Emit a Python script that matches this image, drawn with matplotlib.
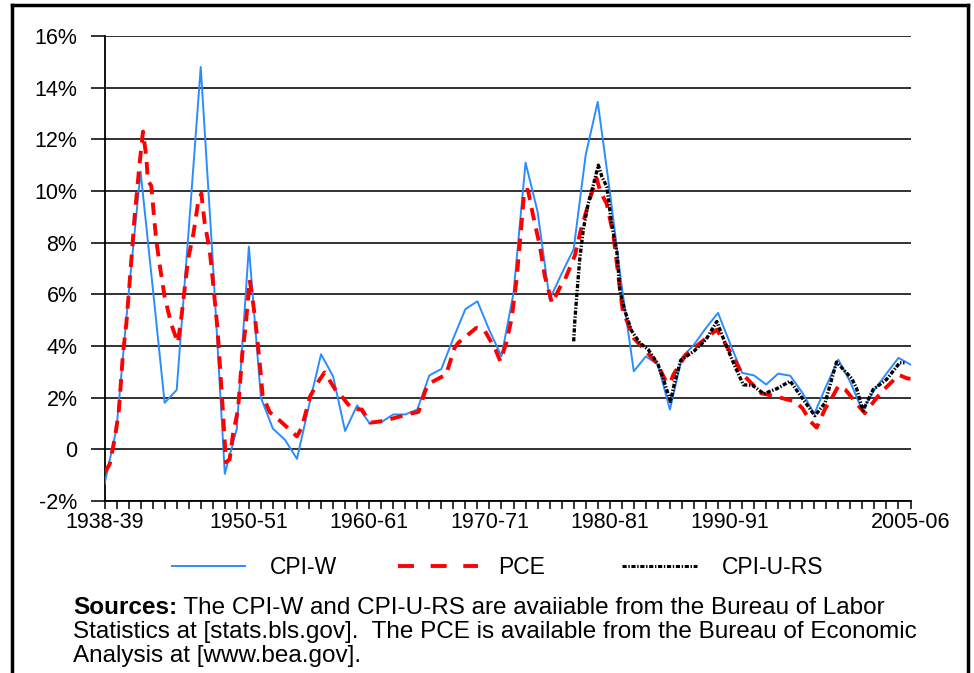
import numpy as np
import matplotlib
matplotlib.use('Agg')
from matplotlib import pyplot as plt
from matplotlib.lines import Line2D

plt.rcParams['font.family'] = ['Liberation Sans', 'DejaVu Sans']
plt.rcParams['lines.scale_dashes'] = False

# CPI-W, annual
cpiw_years = list(range(1938, 2006))
cpiw = [-1.35, 0.8, 6.0, 10.75, 6.3, 1.8, 2.3, 8.5, 14.8, 7.3,
        -0.95, 0.8, 7.85, 2.0, 0.8, 0.37, -0.37, 1.7, 3.68, 2.83,
        0.71, 1.7, 1.03, 1.05, 1.35, 1.35, 1.54, 2.86, 3.11, 4.3,
        5.43, 5.73, 4.6, 3.6, 6.05, 11.1, 9.2, 5.8, 6.8, 7.75,
        11.4, 13.45, 10.0, 6.3, 3.02, 3.6, 3.28, 1.54, 3.56, 4.05,
        4.7, 5.28, 4.1, 2.96, 2.86, 2.51, 2.93, 2.85, 2.2, 1.37,
        2.46, 3.47, 2.6, 1.5, 2.3, 2.93, 3.54, 3.28]

# PCE
pce_years = [1938.0, 1938.43, 1938.84, 1939.18, 1939.54, 1939.82, 1940.15, 1940.5,
             1940.92, 1941.2, 1941.48, 1941.6, 1941.89, 1942.1, 1942.3, 1942.6,
             1943.0, 1943.56, 1944.1, 1944.4, 1944.94, 1945.4, 1945.77, 1946.05,
             1946.33, 1946.74, 1947.0, 1947.4, 1947.85, 1948.1, 1948.4, 1948.68,
             1949.1, 1949.46, 1949.73, 1950.07, 1950.4, 1950.65, 1950.9, 1951.15,
             1951.75, 1952.6, 1954.0, 1954.4, 1954.8, 1955.1, 1955.8, 1956.3,
             1957.2, 1957.7, 1958.55, 1959.4, 1960.07, 1961.2, 1962.7, 1963.5,
             1964.1, 1964.65, 1965.0, 1966.4, 1967.1, 1967.4, 1968.9, 1969.6,
             1970.5, 1970.9, 1971.4, 1971.85, 1972.25, 1972.6, 1972.9, 1973.2,
             1973.65, 1974.2, 1974.6, 1975.2, 1975.9, 1976.3, 1977.1, 1977.6,
             1978.35, 1978.9, 1979.2, 1979.75, 1980.3, 1980.85, 1981.1, 1981.4,
             1982.0, 1982.9, 1983.9, 1984.6, 1985.0, 1985.3, 1986.3, 1988.0,
             1988.9, 1989.9, 1991.0, 1992.6, 1993.6, 1995.4, 1996.0, 1996.7,
             1997.2, 1997.9, 1998.3, 1999.0, 1999.6, 2000.7, 2001.2, 2002.25,
             2002.8, 2004.05, 2004.7, 2005.0]
pce = [-0.9, -0.58, 0.39, 1.42, 3.73, 4.89, 6.82, 9.0,
       11.07, 12.3, 11.3, 10.4, 10.2, 9.1, 8.1, 7.1,
       5.9, 4.83, 4.12, 5.15, 7.34, 8.37, 9.52, 9.9,
       8.75, 7.72, 6.56, 4.63, 1.42, -0.5, -0.39, 0.58,
       1.54, 3.73, 4.76, 6.56, 5.5, 4.5, 3.35, 2.06,
       1.43, 1.1, 0.5, 0.85, 1.54, 2.06, 2.64, 2.98,
       2.3, 2.06, 1.57, 1.54, 1.03, 1.1, 1.29, 1.39,
       1.45, 2.25, 2.55, 2.9, 3.93, 4.12, 4.7, 4.6,
       3.86, 3.41, 4.12, 5.08, 6.56, 8.37, 10.04, 10.04,
       9.0, 7.85, 6.7, 5.66, 6.3, 6.6, 7.5, 8.5,
       9.7, 10.5, 10.0, 9.5, 8.3, 6.2, 5.3, 5.0,
       4.3, 3.85, 3.35, 2.7, 2.55, 2.9, 3.65, 4.3,
       4.63, 3.86, 2.93, 2.17, 2.07, 1.85, 1.6, 1.07,
       0.84, 1.57, 1.85, 2.45, 2.3, 1.67, 1.4, 2.03,
       2.32, 2.88, 2.75, 2.73]

# CPI-U-RS, starts late 1970s
cpiurs_years = [1977.0, 1977.1, 1977.25, 1977.5, 1977.8, 1978.2, 1978.6, 1979.05,
                1979.35, 1979.75, 1980.15, 1980.6, 1980.85, 1981.3, 1981.8, 1982.5,
                1983.2, 1984.0, 1984.5, 1985.05, 1985.35, 1985.9, 1987.0, 1988.0,
                1988.9, 1989.6, 1990.4, 1991.1, 1991.9, 1992.8, 1993.9, 1995.0,
                1996.05, 1997.05, 1997.9, 1998.85, 2000.1, 2000.5, 2001.05, 2001.9,
                2003.0, 2004.1, 2004.5]
cpiurs = [4.18, 5.0, 5.9, 7.34, 8.5, 9.5, 10.17, 11.0,
          10.55, 10.17, 8.75, 7.6, 6.1, 5.3, 4.6, 4.12,
          3.86, 3.3, 2.65, 1.85, 2.5, 3.45, 3.8, 4.25,
          4.95, 4.1, 3.22, 2.5, 2.47, 2.15, 2.35, 2.64,
          1.95, 1.3, 1.8, 3.38, 2.75, 2.38, 1.5, 2.32,
          2.7, 3.35, 3.35]

xtick_years = [1938, 1950, 1960, 1970, 1980, 1990, 2005]
xtick_labels = ['1938-39', '1950-51', '1960-61', '1970-71', '1980-81', '1990-91', '2005-06']
ytick_vals = list(range(-2, 17, 2))
ytick_labels = ['-2%', '0'] + ['{}%'.format(v) for v in ytick_vals[2:]]

W, H = 974, 673
fs = 15.5      # tick labels
fs_leg = 16.5  # legend
fs_src = 17.5  # source note
blue, red = '#2b8cff', '#ff0000'

fig = plt.figure(figsize=(W / 100, H / 100), dpi=100)
ax = fig.add_axes([104.5 / W, 1 - 501 / H, (910.5 - 104.5) / W, (501 - 36) / H])

ax.plot(cpiw_years, cpiw, color=blue, lw=1.4, zorder=3)
ax.plot(pce_years, pce, color=red, lw=2.8, dashes=(9, 6), zorder=4)
ax.plot(cpiurs_years, cpiurs, color='black', lw=2.4, dashes=(3, 1.2, 1, 1.2), zorder=5)

ax.set_xlim(1938, 2005)
ax.set_ylim(-2, 16)
ax.set_yticks(ytick_vals)
ax.set_yticklabels(ytick_labels, fontsize=fs)
ax.set_xticks(xtick_years)
ax.set_xticklabels(xtick_labels, fontsize=fs)
ax.set_xticks(cpiw_years, minor=True)

ax.yaxis.grid(True, color='#222222', lw=1.3)
ax.set_axisbelow(True)
for s in ['top', 'right']:
    ax.spines[s].set_visible(False)
ax.spines['left'].set_linewidth(1.3)
ax.spines['bottom'].set_linewidth(1.3)
ax.tick_params(axis='y', length=10, width=1.3, color='#222222', pad=9.5)
ax.tick_params(axis='x', which='both', length=5.8, width=1.1, pad=2)

# legend drawn by hand under the axis
ly = 1 - 566 / H
fig.add_artist(Line2D([172 / W, 245 / W], [ly, ly], color=blue, lw=1.4))
fig.add_artist(Line2D([398 / W, 478 / W], [ly, ly], color=red, lw=2.8, dashes=(11.5, 12)))
fig.add_artist(Line2D([622 / W, 697 / W], [ly, ly], color='black', lw=2.2, dashes=(3, 1.2, 1, 1.2)))
fig.text(270 / W, 1 - 574 / H, 'CPI-W', fontsize=fs_leg, va='baseline')
fig.text(498 / W, 1 - 574 / H, 'PCE', fontsize=fs_leg, va='baseline')
fig.text(722 / W, 1 - 574 / H, 'CPI-U-RS', fontsize=fs_leg, va='baseline')

# source note
t = fig.text(73 / W, 1 - 614 / H, 'Sources:', fontsize=fs_src, fontweight='bold', va='baseline')
fig.canvas.draw()
bb = t.get_window_extent()
fig.text(bb.x1 / W, 1 - 614 / H, ' The CPI-W and CPI-U-RS are avaiiable from the Bureau of Labor',
         fontsize=fs_src, va='baseline')
fig.text(73 / W, 1 - 638 / H,
         'Statistics at [stats.bls.gov].  The PCE is available from the Bureau of Economic',
         fontsize=fs_src, va='baseline')
fig.text(73 / W, 1 - 662 / H, 'Analysis at [www.bea.gov].', fontsize=fs_src, va='baseline')

# page frame
fig.add_artist(Line2D([12 / W, 968 / W], [1 - 5 / H, 1 - 5 / H], color='black', lw=2.5))
fig.add_artist(Line2D([12 / W, 12 / W], [0, 1 - 5 / H], color='black', lw=2.5))
fig.add_artist(Line2D([968 / W, 968 / W], [0, 1 - 5 / H], color='black', lw=2.5))

fig.savefig('out.png', dpi=100)
